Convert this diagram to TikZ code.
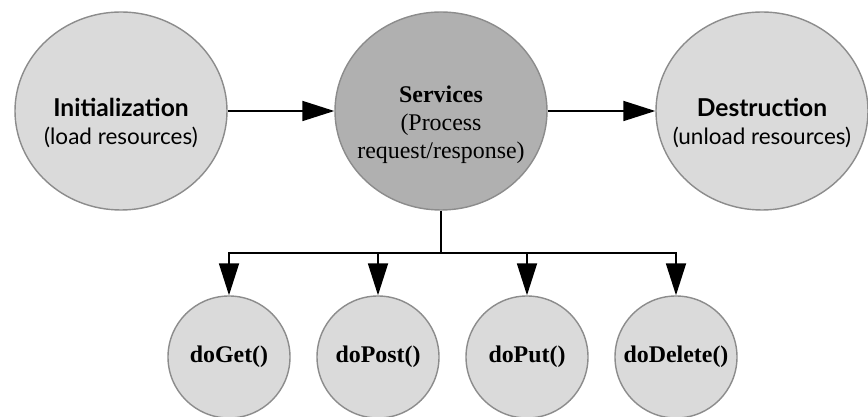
\documentclass[tikz,border=0pt]{standalone}
\usepackage{fontspec}
\setmainfont{Liberation Serif}
\newfontfamily\phasefont{Lato}
\usetikzlibrary{arrows.meta, shapes.geometric}

\definecolor{lightfill}{RGB}{218,218,218}
\definecolor{darkfill}{RGB}{176,176,176}
\definecolor{rim}{RGB}{140,140,140}

\begin{document}
\begin{tikzpicture}[
    phase/.style={ellipse, draw=rim, line width=1pt, fill=lightfill,
        minimum width=5.3cm, minimum height=4.95cm, inner sep=0pt},
    phasetext/.style={align=center, font=\fontsize{16}{19.5}\selectfont\phasefont},
    servtext/.style={align=center, font=\fontsize{17}{20}\selectfont},
    method/.style={circle, draw=rim, line width=1pt, fill=lightfill,
        minimum size=3.05cm, inner sep=0pt, font=\fontsize{17}{20}\selectfont\bfseries},
    flow/.style={line width=1.3pt, -{Triangle[length=0.8cm, width=0.5cm]}}]
    \useasboundingbox (0,0) rectangle (21.7,10.425);

    \node[phase] (init) at (3.025,7.65) {};
    \node[phase, fill=darkfill] (serv) at (11.025,7.65) {};
    \node[phase] (dest) at (19.05,7.65) {};
    \node[phasetext] (init-text) at ([yshift=-0.3cm]init) {{\fontsize{17.5}{20}\selectfont\bfseries Initialization}\\(load resources)};
    \node[servtext] (serv-text) at ([yshift=-0.35cm]serv) {\textbf{Services}\\(Process\\request/response)};
    \node[phasetext] (dest-text) at ([yshift=-0.3cm]dest) {{\fontsize{17.5}{20}\selectfont\bfseries Destruction}\\(unload resources)};

    \node[method] (get) at (5.725,1.5) {doGet()};
    \node[method] (post) at (9.45,1.5) {doPost()};
    \node[method] (put) at (13.175,1.5) {doPut()};
    \node[method] (delete) at (16.9,1.5) {doDelete()};

    \coordinate (split) at (11.025,4.1);

    \draw[flow] (init) -- (serv);
    \draw[flow] (serv) -- (dest);
    \draw[line width=1.3pt] (serv) -- (split);
    \foreach \m in {get, post, put, delete}
        \draw[flow] (split) -| (\m);
\end{tikzpicture}
\end{document}
